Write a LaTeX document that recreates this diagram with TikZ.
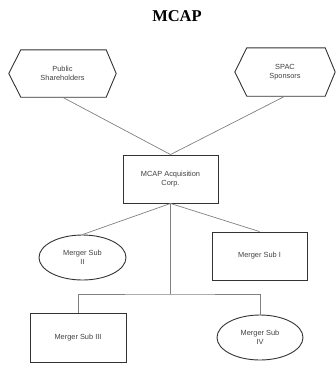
\documentclass[tikz,border=0pt]{standalone}
\usepackage{fontspec}
\setmainfont{Liberation Serif}
\setsansfont{Liberation Sans}
\usetikzlibrary{shapes.geometric}
\definecolor{boxline}{HTML}{333333}
\definecolor{conn}{HTML}{808080}
\definecolor{txt}{HTML}{404040}
\begin{document}
\begin{tikzpicture}[x=1pt,y=-1pt,
  lbl/.style={font=\sffamily\fontsize{7.4}{9}\selectfont, text=txt, align=center, inner sep=0pt},
  rectbox/.style={lbl, draw=boxline, line width=0.9pt, rectangle},
  ovalbox/.style={lbl, draw=boxline, line width=0.9pt, ellipse},
  hexbox/.style={lbl, rectangle},
  conline/.style={draw=conn, line width=0.7pt}]
\useasboundingbox (0,0) rectangle (336,365);
\node[font=\bfseries\fontsize{16.5}{18}\selectfont] (title) at (177,16) {MCAP};
\node[hexbox, minimum width=107pt, minimum height=47pt] (pub) at (62.5,73.5) {Public\\Shareholders};
\node[hexbox, minimum width=100pt, minimum height=48pt] (spac) at (285,72) {SPAC\\Sponsors};
\foreach \n in {pub,spac}{
  \draw[draw=boxline, line width=0.9pt] (\n.west) -- ([xshift=12pt]\n.north west) -- ([xshift=-10pt]\n.north east) -- (\n.east) -- ([xshift=-10pt]\n.south east) -- ([xshift=12pt]\n.south west) -- cycle;
}
\node[rectbox, minimum width=95pt, minimum height=48pt] (mcap) at (170.5,179) {MCAP Acquisition\\Corp.};
\node[ovalbox, minimum width=87pt, minimum height=45pt] (sub2) at (82.5,257.5) {Merger Sub\\II};
\node[rectbox, minimum width=95pt, minimum height=48pt] (sub1) at (259.5,256) {Merger Sub I};
\node[rectbox, minimum width=96pt, minimum height=49pt] (sub3) at (78,337.5) {Merger Sub III};
\node[ovalbox, minimum width=86pt, minimum height=45pt] (sub4) at (260,337.5) {Merger Sub\\IV};
\coordinate (j) at (170.5,294);
\draw[conline] (pub.south) -- (mcap.north);
\draw[conline] (spac.south) -- (mcap.north);
\draw[conline] (mcap.south) -- (sub2.north);
\draw[conline] (mcap.south) -- (sub1.north);
\draw[conline] (mcap.south) -- (j);
\draw[conline] (sub3.north) |- (j) -| (sub4.north);
\end{tikzpicture}
\end{document}
